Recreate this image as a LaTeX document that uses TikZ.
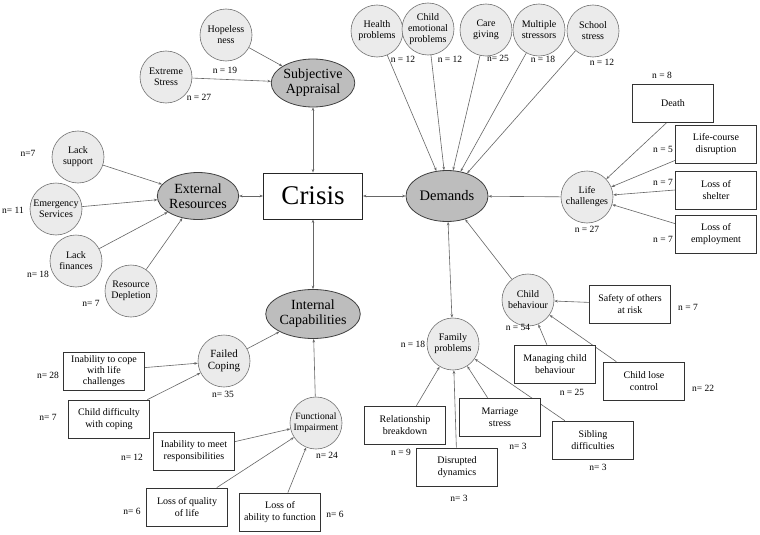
\documentclass[tikz,border=0pt]{standalone}
\usepackage{fontspec}
\setmainfont{Liberation Serif}
\usetikzlibrary{arrows.meta,backgrounds,shapes.geometric}
\begin{document}
\begin{tikzpicture}[x=1pt,y=-1pt,
  leaf/.style={circle,draw=black!55,fill=black!8,line width=0.6pt,minimum size=52pt,inner sep=0pt,align=center,font=\fontsize{10}{11}\selectfont},
  box/.style={rectangle,draw=black!80,fill=white,line width=0.7pt,minimum width=81pt,minimum height=38pt,inner sep=0pt,align=center,font=\fontsize{10}{11.5}\selectfont},
  hub/.style={ellipse,draw=black!75,fill=black!26,line width=0.8pt,inner sep=0pt,align=center,font=\fontsize{14}{15}\selectfont},
  nl/.style={inner sep=0pt,font=\fontsize{9.5}{11}\selectfont},
  tip/.style={},
  con/.style={draw=black!60,line width=0.6pt,-{Stealth[length=3.5pt,width=2.6pt]}},
  dcon/.style={draw=black!60,line width=0.6pt,{Stealth[length=3.5pt,width=2.6pt]}-{Stealth[length=3.5pt,width=2.6pt]}}]
\useasboundingbox (0,0) rectangle (760,535);

% central
\node[draw=black!85,line width=0.9pt,fill=white,minimum width=99pt,minimum height=46pt,inner sep=0pt,font=\fontsize{27}{30}\selectfont] (crisis) at (313,196) {Crisis};
\node[hub,minimum width=67pt,minimum height=48pt] (subj) at (313,83) {Subjective\\Appraisal};
\node[hub,minimum width=77pt,minimum height=47pt] (ext) at (198,196) {External\\Resources};
\node[hub,minimum width=77pt,minimum height=49pt] (int) at (313,314) {Internal\\Capabilities};
\node[hub,minimum width=82pt,minimum height=51pt,font=\fontsize{14.5}{16}\selectfont] (dem) at (447,196) {Demands};

% subjective appraisal
\node[leaf] (hope) at (226,35) {Hopeless\\ness};
\node[leaf] (xstr) at (166,77) {Extreme\\Stress};

% external resources
\node[leaf] (lsup) at (78,157) {Lack\\support};
\node[leaf] (emer) at (56,209) {Emergency\\Services};
\node[leaf] (lfin) at (76,261) {Lack\\finances};
\node[leaf] (rdep) at (131,291) {Resource\\Depletion};

% demands
\node[leaf] (health) at (377,31) {Health\\problems};
\node[leaf] (emo) at (428,29) {Child\\emotional\\problems};
\node[leaf] (care) at (486,30) {Care\\giving};
\node[leaf] (mult) at (539,30) {Multiple\\stressors};
\node[leaf] (school) at (593,31) {School\\stress};
\node[leaf] (life) at (587,197) {Life\\challenges};
\node[leaf] (child) at (528,300) {Child\\behaviour};
\node[leaf] (fam) at (453,344) {Family\\problems};

\node[box] (death) at (673,103) {Death};
\node[box] (lcd) at (716,144) {Life-course\\disruption};
\node[box] (shel) at (716,190) {Loss of\\shelter};
\node[box] (emp) at (716,234) {Loss of\\employment};
\node[box] (safe) at (630,304) {Safety of others\\at risk};
\node[box] (manage) at (555,364) {Managing child\\behaviour};
\node[box] (lose) at (644,381) {Child lose\\control};
\node[box] (rel) at (405,425) {Relationship\\breakdown};
\node[box] (disr) at (457,467) {Disrupted\\dynamics};
\node[box] (marr) at (500,417) {Marriage\\stress};
\node[box] (sib) at (593,440) {Sibling\\difficulties};

% internal capabilities
\node[leaf,font=\fontsize{11}{12}\selectfont] (failed) at (224,361) {Failed\\Coping};
\node[leaf,font=\fontsize{9.6}{11}\selectfont] (func) at (316,423) {Functional\\Impairment};
\node[box,font=\fontsize{10}{11}\selectfont] (icope) at (104,371) {Inability to cope\\with life\\challenges};
\node[box] (cdiff) at (109,419) {Child difficulty\\with coping};
\node[box] (imeet) at (194,451) {Inability to meet\\responsibilities};
\node[box] (lqual) at (187,507) {Loss of quality\\of life};
\node[box] (labil) at (280,512) {Loss of\\ability to function};

% counts
\node[nl] (c1) at (225,70) {n = 19};
\node[nl] (c2) at (199,97) {n = 27};
\node[nl] (c3) at (28,153) {n=7};
\node[nl] (c4) at (13,210) {n= 11};
\node[nl] (c5) at (38,274) {n= 18};
\node[nl] (c6) at (91,303) {n= 7};
\node[nl] (c7) at (403,59) {n = 12};
\node[nl] (c8) at (450,59) {n = 12};
\node[nl] (c9) at (498,58) {n= 25};
\node[nl] (c10) at (543,59) {n = 18};
\node[nl] (c11) at (602,62) {n = 12};
\node[nl] (c12) at (662,75) {n = 8};
\node[nl] (c13) at (663,149) {n = 5};
\node[nl] (c14) at (663,182) {n = 7};
\node[nl] (c15) at (663,239) {n = 7};
\node[nl] (c16) at (587,229) {n = 27};
\node[nl] (c17) at (688,307) {n = 7};
\node[nl] (c18) at (518,327) {n = 54};
\node[nl] (c19) at (572,392) {n = 25};
\node[nl] (c20) at (703,388) {n= 22};
\node[nl] (c21) at (413,344) {n = 18};
\node[nl] (c22) at (401,452) {n = 9};
\node[nl] (c23) at (459,498) {n= 3};
\node[nl] (c24) at (518,446) {n= 3};
\node[nl] (c25) at (598,467) {n= 3};
\node[nl] (c26) at (48,375) {n= 28};
\node[nl] (c27) at (48,417) {n= 7};
\node[nl] (c28) at (223,394) {n= 35};
\node[nl] (c29) at (132,457) {n= 12};
\node[nl] (c30) at (327,455) {n= 24};
\node[nl] (c31) at (132,511) {n= 6};
\node[nl] (c32) at (335,514) {n= 6};

\begin{pgfonlayer}{background}
\fill[white] (0,0) rectangle (760,535);
% central links
\draw[dcon] (subj) -- (crisis);
\draw[dcon] (ext) -- (crisis);
\draw[dcon] (dem) -- (crisis);
\draw[dcon] (int) -- (crisis);
% subjective
\draw[con] (hope) -- (subj);
\draw[con] (xstr) -- (subj);
% external
\draw[con] (lsup) -- (ext);
\draw[con] (emer) -- (ext);
\draw[con] (lfin) -- (ext);
\draw[con] (rdep) -- (ext);
% demands
\draw[con] (health) -- (dem);
\draw[con] (emo) -- (dem);
\draw[con] (care) -- (dem);
\draw[con] (mult) -- (dem);
\draw[con] (school) -- (dem);
\draw[con] (life) -- (dem);
\draw[con] (child) -- (dem);
\draw[dcon] (dem) -- (fam);
\draw[con] ([xshift=-6pt]death.south) -- (life);
\draw[con] ([yshift=3pt]lcd.south west) -- (life);
\draw[con] (shel.west) -- (life);
\draw[con] ([yshift=-9pt]emp.north west) -- (life);
\draw[con] (safe) -- (child);
\draw[con] (manage) -- (child);
\draw[con] (lose) -- (child);
\draw[con] (rel) -- (fam);
\draw[con] (disr) -- (fam);
\draw[con] (marr) -- (fam);
\draw[con] (sib) -- (fam);
% internal
\draw[con] (failed) -- (int);
\draw[con] (func) -- (int);
\draw[con] (icope) -- (failed);
\draw[con] (cdiff) -- (failed);
\draw[con] (imeet) -- (func);
\draw[con] (lqual) -- (func);
\draw[con] (labil) -- (func);
\end{pgfonlayer}
\end{tikzpicture}
\end{document}
